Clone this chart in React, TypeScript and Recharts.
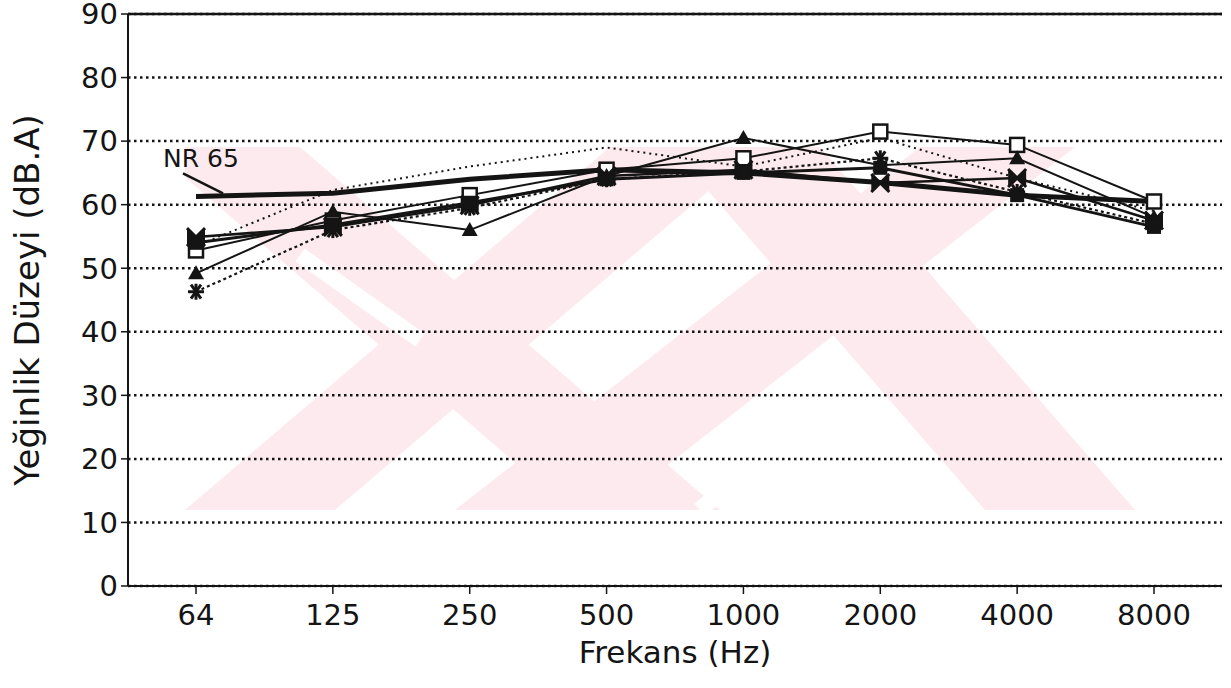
import React from "react"
import { LineChart, Line, XAxis, YAxis, CartesianGrid, LabelList, ReferenceLine } from "recharts"

// octave band centre frequencies
const frequencies = ["64", "125", "250", "500", "1000", "2000", "4000", "8000"]

// NR 65 reference curve
const nr65 = [61.3, 61.8, 64, 65.5, 65, 63.5, 61.5, 60.5]

// measured levels, one list per measuring point (dB.A)
const hollowSquare = [52.8, 57.5, 61.5, 65.5, 67.3, 71.5, 69.4, 60.5]
const triangle = [49.2, 58.9, 56, 64.5, 70.5, 66.2, 67.3, 58]
const asterisk = [46.3, 56, 59.5, 64, 65.2, 67.3, 62, 57]
const cross = [54.9, 56.5, 59.9, 64.5, 65.5, 63.4, 64.2, 57.5]
const filledSquare = [54, 56.8, 60.3, 64, 65, 65.8, 61.5, 56.5]
const dottedOnly = [53.5, 62.3, 66, 69, 66, 70.5, 64.2, 59]

const yTicks = [0, 10, 20, 30, 40, 50, 60, 70, 80, 90]

const data = frequencies.map((f, i) => ({
  f,
  nr65: nr65[i],
  hollowSquare: hollowSquare[i],
  triangle: triangle[i],
  asterisk: asterisk[i],
  cross: cross[i],
  filledSquare: filledSquare[i],
  dottedOnly: dottedOnly[i],
}))

const FONT = "'DejaVu Sans', 'Liberation Sans', sans-serif"
const INK = "#141414"
const PINK = "#fdeaee"

type DotProps = { cx?: number; cy?: number; index?: number }

const hollowSquareDot = ({ cx = 0, cy = 0, index }: DotProps) => (
  <rect key={`hs-${index}`} x={cx - 7} y={cy - 7} width={14} height={14} fill="#fff" stroke={INK} strokeWidth={2.5} />
)

const filledSquareDot = ({ cx = 0, cy = 0, index }: DotProps) => (
  <rect key={`fs-${index}`} x={cx - 7} y={cy - 7} width={14} height={14} fill={INK} />
)

const triangleDot = ({ cx = 0, cy = 0, index }: DotProps) => (
  <polygon key={`tr-${index}`} points={`${cx},${cy - 8} ${cx + 8},${cy + 6} ${cx - 8},${cy + 6}`} fill={INK} />
)

const asteriskDot = ({ cx = 0, cy = 0, index }: DotProps) => (
  <g key={`as-${index}`} stroke={INK} strokeWidth={3}>
    <line x1={cx - 8} y1={cy} x2={cx + 8} y2={cy} />
    <line x1={cx - 5} y1={cy - 7} x2={cx + 5} y2={cy + 7} />
    <line x1={cx + 5} y1={cy - 7} x2={cx - 5} y2={cy + 7} />
    <line x1={cx} y1={cy - 8} x2={cx} y2={cy + 8} />
  </g>
)

const crossDot = ({ cx = 0, cy = 0, index }: DotProps) => (
  <g key={`cr-${index}`}>
    <path d={`M${cx - 9},${cy - 8} L${cx + 9},${cy + 8} L${cx + 9},${cy - 8} L${cx - 9},${cy + 8} Z`} fill={INK} />
    <line x1={cx - 9} y1={cy - 9} x2={cx + 9} y2={cy + 9} stroke={INK} strokeWidth={3} />
    <line x1={cx + 9} y1={cy - 9} x2={cx - 9} y2={cy + 9} stroke={INK} strokeWidth={3} />
  </g>
)

// "NR 65" caption with its leader line, tied to the first point of the curve
const nrLabel = (props: any) => {
  const { x, y, index } = props
  if (index !== 0) return null
  return (
    <g>
      <text x={x - 33} y={y - 29} fontSize={25} fontFamily={FONT} fill={INK}>
        NR 65
      </text>
      <line x1={x - 13} y1={y - 23} x2={x + 27} y2={y - 3} stroke={INK} strokeWidth={2.5} />
    </g>
  )
}

// faint background watermark of the scanned page
function Watermark() {
  const band = (tx1: number, tx2: number, bx1: number, bx2: number) =>
    `${tx1},147 ${tx2},147 ${bx2},510 ${bx1},510`
  return (
    <svg width={1231} height={688} style={{ position: "absolute", left: 0, top: 0 }}>
      <defs>
        <clipPath id="wm">
          <rect x={185} y={147} width={950} height={363} />
        </clipPath>
      </defs>
      <g clipPath="url(#wm)" fill={PINK}>
        <polygon points={band(150, 300, 570, 720)} />
        <polygon points={band(610, 760, 185, 335)} />
        <polygon points={band(670, 820, 985, 1135)} />
        <polygon points={band(920, 1075, 455, 610)} />
      </g>
      <g clipPath="url(#wm)" stroke="#fff" strokeWidth={16}>
        <line x1={300} y1={255} x2={420} y2={340} />
        <line x1={1120} y1={430} x2={990} y2={300} />
        <line x1={700} y1={510} x2={800} y2={420} />
      </g>
    </svg>
  )
}

export default function App() {
  const tickStyle = { fontSize: 29, fontFamily: FONT, fill: INK }
  return (
    <div style={{ position: "absolute", left: 0, top: 0, width: 1231, height: 688, background: "#fff" }}>
      <Watermark />
      <div style={{ position: "absolute", left: 0, top: 0 }}>
        <LineChart width={1231} height={688} data={data} margin={{ top: 14, right: 9, bottom: 0, left: 0 }}>
          <CartesianGrid vertical={false} stroke={INK} strokeWidth={2.5} strokeDasharray="2.5 3.5" />
          <XAxis
            dataKey="f"
            height={102}
            padding={{ left: 68, right: 68 }}
            axisLine={{ stroke: INK, strokeWidth: 2 }}
            tickLine={{ stroke: INK, strokeWidth: 1.5 }}
            tickSize={8}
            tickMargin={10}
            tick={tickStyle}
            interval={0}
            label={{
              value: "Frekans (Hz)",
              position: "insideBottom",
              offset: 25,
              style: { fontSize: 31, fontFamily: FONT, fill: INK },
            }}
          />
          <YAxis
            width={128}
            domain={[0, 90]}
            ticks={yTicks}
            interval={0}
            axisLine={{ stroke: INK, strokeWidth: 2 }}
            tickLine={{ stroke: INK, strokeWidth: 1.5 }}
            tickSize={7}
            tickMargin={3}
            tick={tickStyle}
            label={{
              value: "Yeğinlik Düzeyi (dB.A)",
              angle: -90,
              position: "insideLeft",
              offset: 27,
              style: { textAnchor: "middle", fontSize: 34, fontFamily: FONT, fill: INK },
            }}
          />
          <YAxis yAxisId="right" orientation="right" width={0} domain={[0, 90]} tick={false} tickLine={false} axisLine={{ stroke: INK, strokeWidth: 2 }} />
          <ReferenceLine y={90} stroke={INK} strokeWidth={2.5} />

          <Line dataKey="dottedOnly" stroke={INK} strokeWidth={2} strokeDasharray="2 4" dot={false} isAnimationActive={false} />
          <Line dataKey="asterisk" stroke={INK} strokeWidth={2.2} strokeDasharray="3 3" dot={asteriskDot} isAnimationActive={false} />
          <Line dataKey="hollowSquare" stroke={INK} strokeWidth={2} dot={hollowSquareDot} isAnimationActive={false} />
          <Line dataKey="triangle" stroke={INK} strokeWidth={2} dot={triangleDot} isAnimationActive={false} />
          <Line dataKey="cross" stroke={INK} strokeWidth={2.5} dot={crossDot} isAnimationActive={false} />
          <Line dataKey="filledSquare" stroke={INK} strokeWidth={3} dot={filledSquareDot} isAnimationActive={false} />
          <Line dataKey="nr65" stroke={INK} strokeWidth={5} dot={false} isAnimationActive={false}>
            <LabelList dataKey="nr65" content={nrLabel} />
          </Line>
        </LineChart>
      </div>
    </div>
  )
}
